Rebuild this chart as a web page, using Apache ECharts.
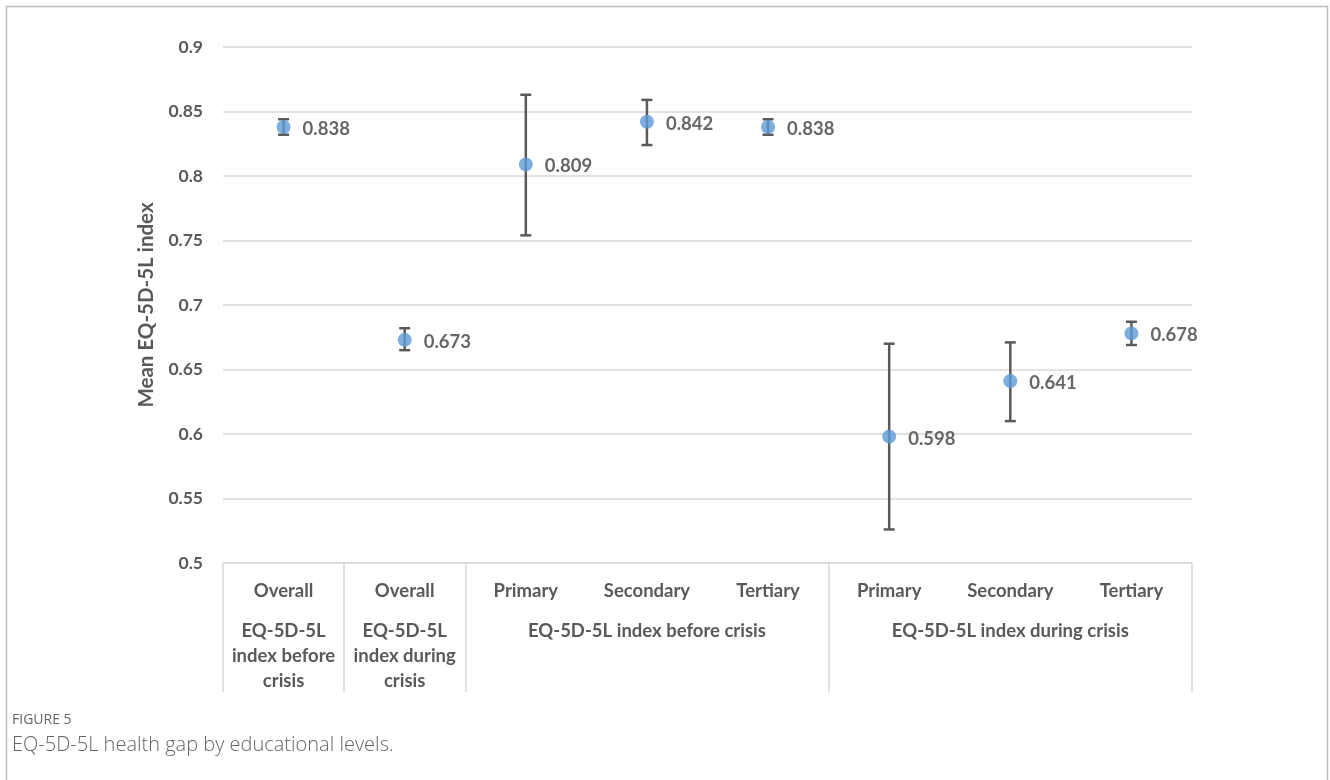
<!DOCTYPE html>
<html>
<head>
<meta charset="utf-8">
<script src="https://cdn.jsdelivr.net/npm/echarts@6/dist/echarts.min.js"></script>
<style>
html,body{margin:0;padding:0;background:#fff;}
#chart{width:1330px;height:780px;}
</style>
</head>
<body>
<div id="chart"></div>
<script>
// ---- data ----
var categories = ['Overall', 'Overall', 'Primary', 'Secondary', 'Tertiary', 'Primary', 'Secondary', 'Tertiary'];
var groupLabels = ['EQ-5D-5L\nindex before\ncrisis', 'EQ-5D-5L\nindex during\ncrisis', '', 'EQ-5D-5L index before crisis', '', '', 'EQ-5D-5L index during crisis', ''];
var groupStarts = [0, 1, 2, 5];
var means = [0.838, 0.673, 0.809, 0.842, 0.838, 0.598, 0.641, 0.678];
var lowerCI = [0.832, 0.665, 0.754, 0.824, 0.832, 0.526, 0.610, 0.669];
var upperCI = [0.844, 0.682, 0.863, 0.859, 0.844, 0.670, 0.671, 0.687];
var yTicks = { min: 0.5, max: 0.9, step: 0.05 };
var yAxisTitle = 'Mean EQ-5D-5L index';
var figureLabel = 'FIGURE 5';
var captionText = 'EQ-5D-5L health gap by educational levels.';

var FONT = 'Lato';
var TXT = '#595959';

var chart = echarts.init(document.getElementById('chart'), null, { renderer: 'canvas' });

var errData = categories.map(function (c, i) { return [i, lowerCI[i], upperCI[i]]; });

var option = {
  animation: false,
  backgroundColor: '#fff',
  textStyle: { fontFamily: FONT },
  grid: { left: 223, right: 138, top: 47, bottom: 217, containLabel: false },
  xAxis: [
    {
      type: 'category',
      data: categories,
      boundaryGap: true,
      axisLine: { show: true, lineStyle: { color: '#d9d9d9', width: 1.5 } },
      axisTick: {
        show: true,
        length: 129,
        lineStyle: { color: '#d9d9d9', width: 1.5 },
        interval: function (idx) { return groupStarts.indexOf(idx) >= 0; }
      },
      axisLabel: {
        interval: 0,
        margin: 19,
        color: TXT,
        fontFamily: FONT,
        fontWeight: 'bold',
        fontSize: 18.5
      },
      splitLine: { show: false }
    },
    {
      type: 'category',
      data: groupLabels,
      position: 'bottom',
      offset: 37,
      boundaryGap: true,
      axisLine: { show: false },
      axisTick: { show: false },
      axisLabel: {
        interval: 0,
        margin: 19,
        color: TXT,
        fontFamily: FONT,
        fontWeight: 'bold',
        fontSize: 18.5,
        lineHeight: 25,
        align: 'center'
      },
      splitLine: { show: false }
    }
  ],
  yAxis: {
    type: 'value',
    min: yTicks.min,
    max: yTicks.max,
    interval: yTicks.step,
    name: yAxisTitle,
    nameLocation: 'middle',
    nameGap: 66,
    nameRotate: 90,
    nameTextStyle: { color: TXT, fontFamily: FONT, fontWeight: 'bold', fontSize: 20.5 },
    axisLine: { show: false },
    axisTick: { show: false },
    axisLabel: {
      margin: 20,
      color: TXT,
      fontFamily: FONT,
      fontWeight: 'bold',
      fontSize: 17.5,
      formatter: function (v) { return String(+v.toFixed(2)); }
    },
    splitLine: { show: true, lineStyle: { color: '#d9d9d9', width: 1.5 } }
  },
  series: [
    {
      type: 'custom',
      name: 'CI',
      xAxisIndex: 0,
      data: errData,
      z: 2,
      renderItem: function (params, api) {
        var x = api.value(0);
        var lo = api.coord([x, api.value(1)]);
        var hi = api.coord([x, api.value(2)]);
        var cap = 5.5;
        var style = { stroke: '#595959', lineWidth: 2.5, fill: null };
        return {
          type: 'group',
          children: [
            { type: 'line', shape: { x1: lo[0], y1: lo[1], x2: hi[0], y2: hi[1] }, style: style },
            { type: 'line', shape: { x1: hi[0] - cap, y1: hi[1], x2: hi[0] + cap, y2: hi[1] }, style: style },
            { type: 'line', shape: { x1: lo[0] - cap, y1: lo[1], x2: lo[0] + cap, y2: lo[1] }, style: style }
          ]
        };
      }
    },
    {
      type: 'scatter',
      name: 'Mean',
      xAxisIndex: 0,
      data: means,
      symbol: 'circle',
      symbolSize: 14,
      z: 3,
      itemStyle: { color: '#5b9bd5' },
      label: {
        show: true,
        position: 'right',
        distance: 12,
        offset: [0, 2],
        color: '#404040',
        fontFamily: FONT,
        fontWeight: 'bold',
        fontSize: 18.5,
        formatter: function (p) { return p.value.toFixed(3); }
      }
    }
  ],
  graphic: [
    {
      type: 'rect',
      silent: true,
      shape: { x: 6.5, y: 6.5, width: 1321, height: 800 },
      style: { fill: null, stroke: '#bdbdbd', lineWidth: 1.5 }
    },
    {
      type: 'text',
      left: 12,
      top: 713,
      style: { text: figureLabel, fill: '#666', font: '14px "Open Sans"' }
    },
    {
      type: 'text',
      left: 12,
      top: 735,
      style: { text: captionText, fill: '#666', font: '300 20px "Open Sans"' }
    }
  ]
};

chart.setOption(option);
</script>
</body>
</html>
